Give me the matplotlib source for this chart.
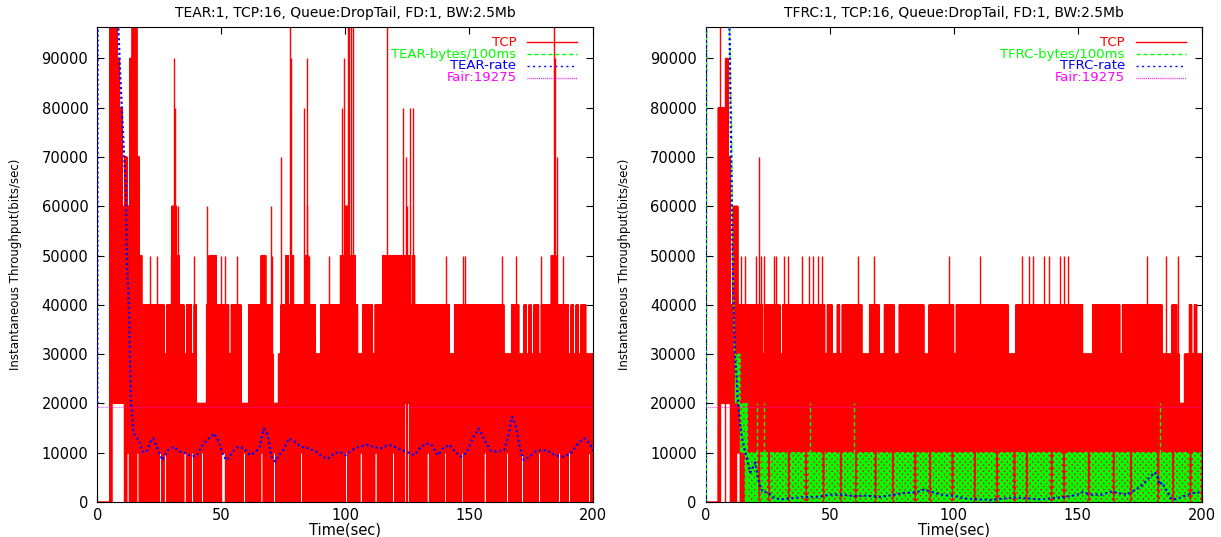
import matplotlib
matplotlib.use("Agg")
import matplotlib.pyplot as plt

plt.rcParams['font.family'] = ['DejaVu Sans']

# ---------------- data (units of 10000 bits/sec for TCP strings, base-36 digit, 'a' = off scale) ----
FAIR = 19275
Y_MAX = 96375
X_TICKS = [0, 50, 100, 150, 200]
Y_TICKS = [0, 10000, 20000, 30000, 40000, 50000, 60000, 70000, 80000, 90000]

TITLES = ["TEAR:1, TCP:16, Queue:DropTail, FD:1, BW:2.5Mb",
          "TFRC:1, TCP:16, Queue:DropTail, FD:1, BW:2.5Mb"]
PROTOS = ["TEAR", "TFRC"]

# TCP throughput, upper edge of the band per 1-second slot
TEAR_TCP_HI = ("00000aaa98" "6769aa7544" "4444444344" "6654434434" "2222455544"
               "4443444422" "2444445544" "3223445454" "4444544433" "4444444455"
               "6555433444" "4344455555" "5555554544" "4444444444" "4433444444"
               "4444444444" "4444333444" "3343434434" "4445544444" "3434344333")
# slots where the TCP band does not reach down to 0 (slot, lower edge)
TEAR_TCP_GAP_SLOTS = [6, 7, 8, 9, 10, 12, 16, 25, 27, 35, 38, 42, 50, 51, 59, 66, 71, 82,
                      100, 106, 112, 119, 124, 125, 133, 140, 147, 156, 165, 171, 178,
                      186, 190, 198]
TEAR_TCP_GAP_LO = [2, 2, 2, 2, 2, 1, 1, 1, 1, 1, 1, 1, 1, 1, 1, 1, 1, 1,
                   1, 1, 1, 1, 2, 2, 1, 1, 1, 1, 1, 1, 1,
                   1, 1, 1]
# isolated TCP peaks (time s, value x10000)
TEAR_SPIKE_T = [16.7, 21.4, 24.1, 29.6, 30.9, 31.2, 32.4, 39.0, 44.3, 45.4, 49.8, 51.3,
                56.5, 66.8, 69.9, 70.6, 74.2, 76.1, 77.5, 78.1, 79.1, 83.4, 84.4, 84.7,
                85.5, 93.4, 98.5, 99.5, 100.9, 101.6, 102.4, 103.2, 116.9, 123.4,
                124.3, 124.9, 126.1, 127.5, 140.5, 147.6, 148.2, 163.2, 169.0, 178.8,
                184.2, 184.5, 185.2, 187.6]
TEAR_SPIKE_V = [5, 5, 5, 5, 9, 8, 6, 5, 6, 5, 5, 5,
                5, 5, 6, 5, 7, 5, 10, 9, 5, 8, 6, 9,
                5, 5, 8, 9, 10, 10, 10, 10, 10, 8,
                7, 6, 8, 8, 5, 5, 5, 5, 5, 5,
                10, 9, 7, 5]

TEAR_RATE_T = [0.0, 0.4, 8.2, 8.5, 9.3, 9.9, 10.8, 11.5, 12.0, 12.7,
               13.5, 14.0, 14.6, 16.7, 18.3, 19.9, 21.4, 22.5, 24.6, 26.2,
               28.5, 30.9, 33.2, 35.6, 37.9, 40.3, 41.9, 44.3, 47.1, 49.0,
               50.9, 52.4, 54.5, 56.8, 59.2, 61.6, 63.9, 65.5, 67.1, 68.7,
               70.2, 71.8, 73.4, 74.9, 77.3, 79.7, 82.0, 85.2, 88.3, 90.7,
               93.0, 95.4, 97.8, 100.1, 102.5, 105.6, 108.8, 111.2, 114.3, 117.5,
               119.9, 123.0, 126.2, 127.7, 130.1, 132.5, 134.8, 137.2, 139.6, 142.0,
               144.3, 146.7, 149.1, 151.4, 153.8, 156.1, 158.5, 160.9, 164.0, 165.6,
               167.2, 168.7, 170.3, 171.9, 174.3, 176.6, 179.0, 181.3, 184.5, 187.6,
               190.8, 193.9, 196.3, 198.6, 200.0]
TEAR_RATE_V = [19000, 300000, 300000, 96000, 86000, 80000, 70000, 64000, 48000, 40000,
               21000, 18000, 14000, 12600, 10200, 10200, 12200, 12900, 10500, 8500,
               10500, 11200, 10200, 9900, 9200, 9500, 11200, 12600, 13900, 12200,
               9200, 8500, 10200, 11200, 10900, 9500, 10200, 11200, 14900, 13600,
               9200, 8200, 9500, 10500, 12900, 12200, 11200, 10900, 10200, 9200,
               8800, 9800, 10200, 9500, 10500, 11200, 11600, 11200, 10900, 11600,
               11200, 10500, 9900, 9500, 10900, 11900, 11600, 9500, 10900, 11600,
               10200, 9200, 10200, 12900, 14900, 12600, 10500, 10200, 10500, 13200,
               17300, 15600, 11200, 8500, 9200, 10200, 10500, 10500, 9500, 9200,
               9800, 11900, 12900, 11900, 10200]

TFRC_TCP_HI = ("0000088897" "4664444444" "4443444444" "3444444444" "4444444434"
               "4334344444" "4443334444" "3344443344" "4444444433" "4444444444"
               "3444444444" "4444444444" "4433344444" "4444444444" "4444444444"
               "4433334444" "4444444344" "4444444444" "4444333344" "3223343433")
TFRC_TCP_GAP_SLOTS = [6, 7, 8, 9, 12, 13]
TFRC_TCP_GAP_LO = [2, 2, 2, 2, 1, 1]
TFRC_SPIKE_T = [5.6, 7.8, 11.8, 12.4, 21.4, 11.9, 14.3, 15.9, 20.2, 22.2, 23.3, 27.4,
                28.5, 31.7, 33.3, 38.8, 41.6, 43.2, 45.1, 46.7, 61.2, 68.0, 98.0,
                110.7, 127.6, 130.4, 132.0, 136.4, 138.3, 143.0, 144.3, 146.2,
                178.1, 185.7, 190.4]
TFRC_SPIKE_V = [10, 9, 6, 6, 7, 5, 5, 5, 5, 5, 5, 5,
                5, 5, 5, 5, 5, 5, 5, 5, 5, 5, 5,
                5, 5, 5, 5, 5, 5, 5, 5, 5,
                5, 5, 5]

# TFRC bytes per 100 ms
TFRC_BYTES_EARLY_T = [0.0, 0.3, 0.5, 9.3, 9.5, 9.8, 10.1, 10.4, 10.7, 11.0, 11.3, 11.6, 12.0]
TFRC_BYTES_EARLY_V = [0, 0, 300000, 300000, 100000, 90000, 80000, 80000, 60000, 50000,
                      40000, 30000, 30000]
TFRC_BYTES_FIRST_SLOT = 12
TFRC_BYTES_START_HI = [3, 3, 2, 2, 2]
TFRC_BYTES_START_LO = [2, 2, 1, 1, 0]
TFRC_BYTES_LEVEL = 1          # band 0..10000 after slot 17
TFRC_BYTES_ZERO_SLOTS = [21, 25, 33, 40, 47, 54, 60, 68, 75, 84, 90, 99, 108, 117,
                         124, 129, 139, 144, 154, 164, 171, 182, 188, 195]
TFRC_BYTES_SPIKE_T = [20.6, 23.4, 42.1, 59.6, 183.1]
TFRC_BYTES_SPIKE_V = [2, 2, 2, 2, 2]

TFRC_RATE_T = [0.0, 0.4, 9.3, 9.6, 10.0, 10.5, 11.0, 11.5, 12.0, 12.5,
               13.0, 14.0, 15.0, 16.0, 17.0, 18.0, 19.0, 20.0, 21.0, 22.0,
               23.0, 25.0, 27.0, 30.0, 35.0, 40.0, 45.0, 50.0, 55.0, 60.0,
               65.0, 70.0, 75.0, 80.0, 85.0, 88.0, 90.0, 95.0, 100.0, 105.0,
               110.0, 115.0, 120.0, 125.0, 130.0, 135.0, 140.0, 145.0, 150.0, 152.0,
               155.0, 160.0, 164.0, 166.0, 170.0, 175.0, 178.0, 181.0, 182.0, 183.0,
               184.0, 186.0, 188.0, 190.0, 193.0, 196.0, 200.0]
TFRC_RATE_V = [0, 300000, 300000, 96000, 80000, 60000, 45000, 35000, 28000, 25000,
               20000, 15000, 12000, 10000, 8000, 6000, 7000, 8000, 5000, 3000,
               2000, 2000, 1000, 500, 800, 1000, 1000, 1500, 1500, 1200,
               1300, 1000, 1400, 1800, 2000, 2500, 2200, 1500, 1200, 700,
               500, 400, 700, 900, 700, 500, 800, 1000, 1500, 2000,
               1500, 1500, 2200, 1800, 1500, 3000, 4500, 6000, 5500, 3500,
               4000, 2000, 500, 600, 1200, 1800, 2000]

RED, GREEN, BLUE, MAGENTA = "#ff0000", "#00ff00", "#0000ff", "#ff00ff"
UNIT = 10000


def expand(lo, hi, start=0, per_slot=10):
    """Draw each 1 s slot as its samples swinging between lower and upper edge."""
    t, v = [], []
    step = 1.0 / per_slot
    for i, (l, h) in enumerate(zip(lo, hi)):
        for k in range(per_slot):
            t.append(start + i + step * k)
            v.append((h if k % 2 else l) * UNIT)
    return t, v


def tcp_series(hi_str, gap_slots, gap_lo):
    hi = [int(c, 36) for c in hi_str]
    lo = [0] * len(hi)
    for s, l in zip(gap_slots, gap_lo):
        lo[s] = l
    return expand(lo, hi)


fig = plt.figure(figsize=(12.21, 5.37), dpi=100)
ax_l = fig.add_axes([0.0797, 0.0652, 0.4062, 0.8845])
ax_r = fig.add_axes([0.5780, 0.0652, 0.4062, 0.8845])

for idx, ax in enumerate([ax_l, ax_r]):
    proto = PROTOS[idx]
    if idx == 0:
        t, v = tcp_series(TEAR_TCP_HI, TEAR_TCP_GAP_SLOTS, TEAR_TCP_GAP_LO)
        sp_t, sp_v = TEAR_SPIKE_T, TEAR_SPIKE_V
    else:
        t, v = tcp_series(TFRC_TCP_HI, TFRC_TCP_GAP_SLOTS, TFRC_TCP_GAP_LO)
        sp_t, sp_v = TFRC_SPIKE_T, TFRC_SPIKE_V
    ax.plot(t, v, color=RED, lw=1.0, zorder=2)
    ax.vlines(sp_t, 0, [s * UNIT for s in sp_v], color=RED, lw=1.0, zorder=2)

    if idx == 1:
        n = 200 - TFRC_BYTES_FIRST_SLOT
        hi = [TFRC_BYTES_LEVEL] * n
        lo = [0] * n
        for j, (h, l) in enumerate(zip(TFRC_BYTES_START_HI, TFRC_BYTES_START_LO)):
            hi[j], lo[j] = h, l
        for s in TFRC_BYTES_ZERO_SLOTS:
            hi[s - TFRC_BYTES_FIRST_SLOT] = 0
        gt, gv = expand(lo, hi, TFRC_BYTES_FIRST_SLOT, per_slot=4)
        ax.plot(TFRC_BYTES_EARLY_T + gt, TFRC_BYTES_EARLY_V + gv, color=GREEN, lw=0.9,
                dashes=(3, 2), zorder=3)
        ax.vlines(TFRC_BYTES_SPIKE_T, 0, [s * UNIT for s in TFRC_BYTES_SPIKE_V],
                  color=GREEN, lw=1.0, linestyles=(0, (3, 2)), zorder=3)
        ax.plot(TFRC_RATE_T, TFRC_RATE_V, color=BLUE, lw=1.6, dashes=(1.0, 1.2), zorder=4)
    else:
        ax.plot(TEAR_RATE_T, TEAR_RATE_V, color=BLUE, lw=1.6, dashes=(1.0, 1.2), zorder=4)

    ax.plot([0, 200], [FAIR, FAIR], color=MAGENTA, lw=0.8, dashes=(0.6, 1.2), zorder=5)

    ax.set_xlim(0, 200)
    ax.set_ylim(0, Y_MAX)
    ax.set_xticks(X_TICKS)
    ax.set_xticklabels([str(x) for x in X_TICKS])
    ax.set_yticks(Y_TICKS)
    ax.set_yticklabels([str(y) for y in Y_TICKS])
    ax.tick_params(direction='in', length=5, width=0.8, top=True, right=True,
                   labelsize=10.5, colors='black')
    ax.tick_params(axis='y', pad=6.5)
    ax.tick_params(axis='x', pad=4)
    for sp in ax.spines.values():
        sp.set_linewidth(0.8)
        sp.set_color('black')
    ax.set_axisbelow(True)

    ax.set_title(TITLES[idx], fontsize=10, pad=7)
    ax.set_xlabel("Time(sec)", fontsize=10.5, labelpad=0)
    ax.set_ylabel("Instantaneous Throughput(bits/sec)", fontsize=8.5)
    ax.yaxis.set_label_coords(-0.151, 0.5)

    # key (gnuplot style: right-aligned text, sample to the right)
    entries = [("TCP", RED, dict(ls='-')),
               (f"{proto}-bytes/100ms", GREEN, dict(dashes=(3, 2))),
               (f"{proto}-rate", BLUE, dict(dashes=(1.5, 2.5))),
               (f"Fair:{FAIR}", MAGENTA, dict(dashes=(0.6, 0.8)))]
    ys = [0.968, 0.943, 0.918, 0.893]
    for (lab, col, sty), yy in zip(entries, ys):
        ax.text(0.845, yy, lab, transform=ax.transAxes, ha='right', va='center',
                color=col, fontsize=9.5, zorder=6)
        ax.plot([0.867, 0.968], [yy, yy], transform=ax.transAxes, color=col, lw=1.0,
                clip_on=False, zorder=6, **sty)

fig.savefig("out.png", dpi=100)
